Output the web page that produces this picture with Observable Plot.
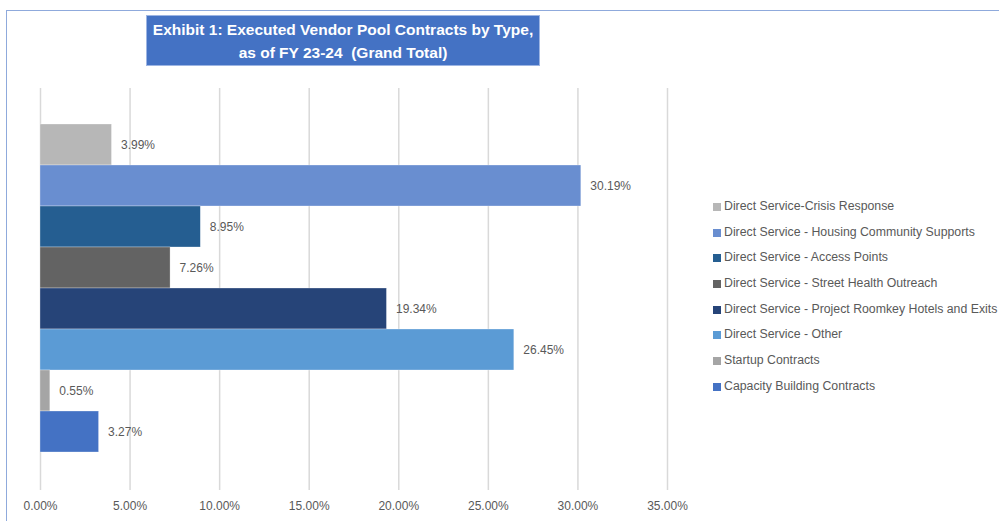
<!DOCTYPE html>
<html>
<head>
<meta charset="utf-8">
<script src="https://cdn.jsdelivr.net/npm/d3@7"></script>
<script src="https://cdn.jsdelivr.net/npm/@observablehq/plot@0.6"></script>
<style>
  html, body { margin: 0; padding: 0; background: #fff; }
  #wrap { position: relative; width: 999px; height: 521px; overflow: hidden; font-family: "Liberation Sans", Arial, sans-serif; }
  #frameTop { position: absolute; left: 6px; top: 10px; width: 993px; height: 0; border-top: 1.5px solid #8faadc; }
  #frameLeft { position: absolute; left: 6px; top: 10px; width: 0; height: 511px; border-left: 1.5px solid #8faadc; }
  #title { position: absolute; left: 146px; top: 15px; width: 394px; height: 51px; background: #4472c4; border: 1px solid #9db5e3; box-sizing: border-box;
           color: #fff; font-weight: bold; font-size: 15.5px; line-height: 23px; text-align: center; padding-top: 2px; white-space: nowrap; }
  #legend { position: absolute; left: 713px; top: 199px; font-size: 12.3px; color: #595959; }
  .li { height: 25.7px; display: flex; align-items: flex-start; white-space: nowrap; }
  .sw { width: 8px; height: 8px; margin-right: 3px; margin-top: 4px; flex: none; }
  #chart { position: absolute; left: 0; top: 0; }
</style>
</head>
<body>
<div id="wrap">
  <div id="chart"></div>
  <div id="frameTop"></div>
  <div id="frameLeft"></div>
  <div id="title">Exhibit 1: Executed Vendor Pool Contracts by Type,<br>as of FY 23-24&nbsp; (Grand Total)</div>
  <div id="legend"></div>
</div>
<script>
const categories = [
  "Direct Service-Crisis Response",
  "Direct Service - Housing Community Supports",
  "Direct Service - Access Points",
  "Direct Service - Street Health Outreach",
  "Direct Service - Project Roomkey Hotels and Exits",
  "Direct Service - Other",
  "Startup Contracts",
  "Capacity Building Contracts"
];
const values = [3.99, 30.19, 8.95, 7.26, 19.34, 26.45, 0.55, 3.27];
const tickValues = [0, 5, 10, 15, 20, 25, 30, 35];
const palette = ["#b7b7b7", "#698ed0", "#255e91", "#636363", "#264478", "#5b9bd5", "#a5a5a5", "#4472c4"];

const data = categories.map((c, i) => ({name: c, value: values[i]}));
const fmt = v => v.toFixed(2) + "%";

const chart = Plot.plot({
  width: 999,
  height: 521,
  marginLeft: 40,
  marginRight: 332,
  marginTop: 88,
  marginBottom: 31,
  style: {fontFamily: "'Liberation Sans', Arial, sans-serif", fontSize: "12px", color: "#595959", background: "transparent"},
  x: {domain: [0, 35], ticks: tickValues, tickFormat: fmt, grid: false, label: null},
  y: {domain: categories, range: [123.3, 452.3], padding: 0, axis: null},
  color: {domain: categories, range: palette},
  marks: [
    Plot.ruleX(tickValues, {stroke: "#d9d9d9", strokeWidth: 1.5, strokeOpacity: 1}),
    Plot.axisX({ticks: tickValues, tickFormat: fmt, tickSize: 0, tickPadding: 11, fill: "#595959", fontSize: 12, label: null}),
    Plot.barX(data, {x: "value", y: "name", fill: "name", stroke: "#ffffff", strokeWidth: 0.5, strokeOpacity: 0.6}),
    Plot.text(data, {x: "value", y: "name", text: d => fmt(d.value), dx: 9, textAnchor: "start", fill: "#595959", fontSize: 12})
  ]
});
document.getElementById("chart").appendChild(chart);

const legend = document.getElementById("legend");
categories.forEach((c, i) => {
  const row = document.createElement("div");
  row.className = "li";
  const sw = document.createElement("span");
  sw.className = "sw";
  sw.style.background = palette[i];
  const t = document.createElement("span");
  t.textContent = c;
  row.appendChild(sw);
  row.appendChild(t);
  legend.appendChild(row);
});
</script>
</body>
</html>
